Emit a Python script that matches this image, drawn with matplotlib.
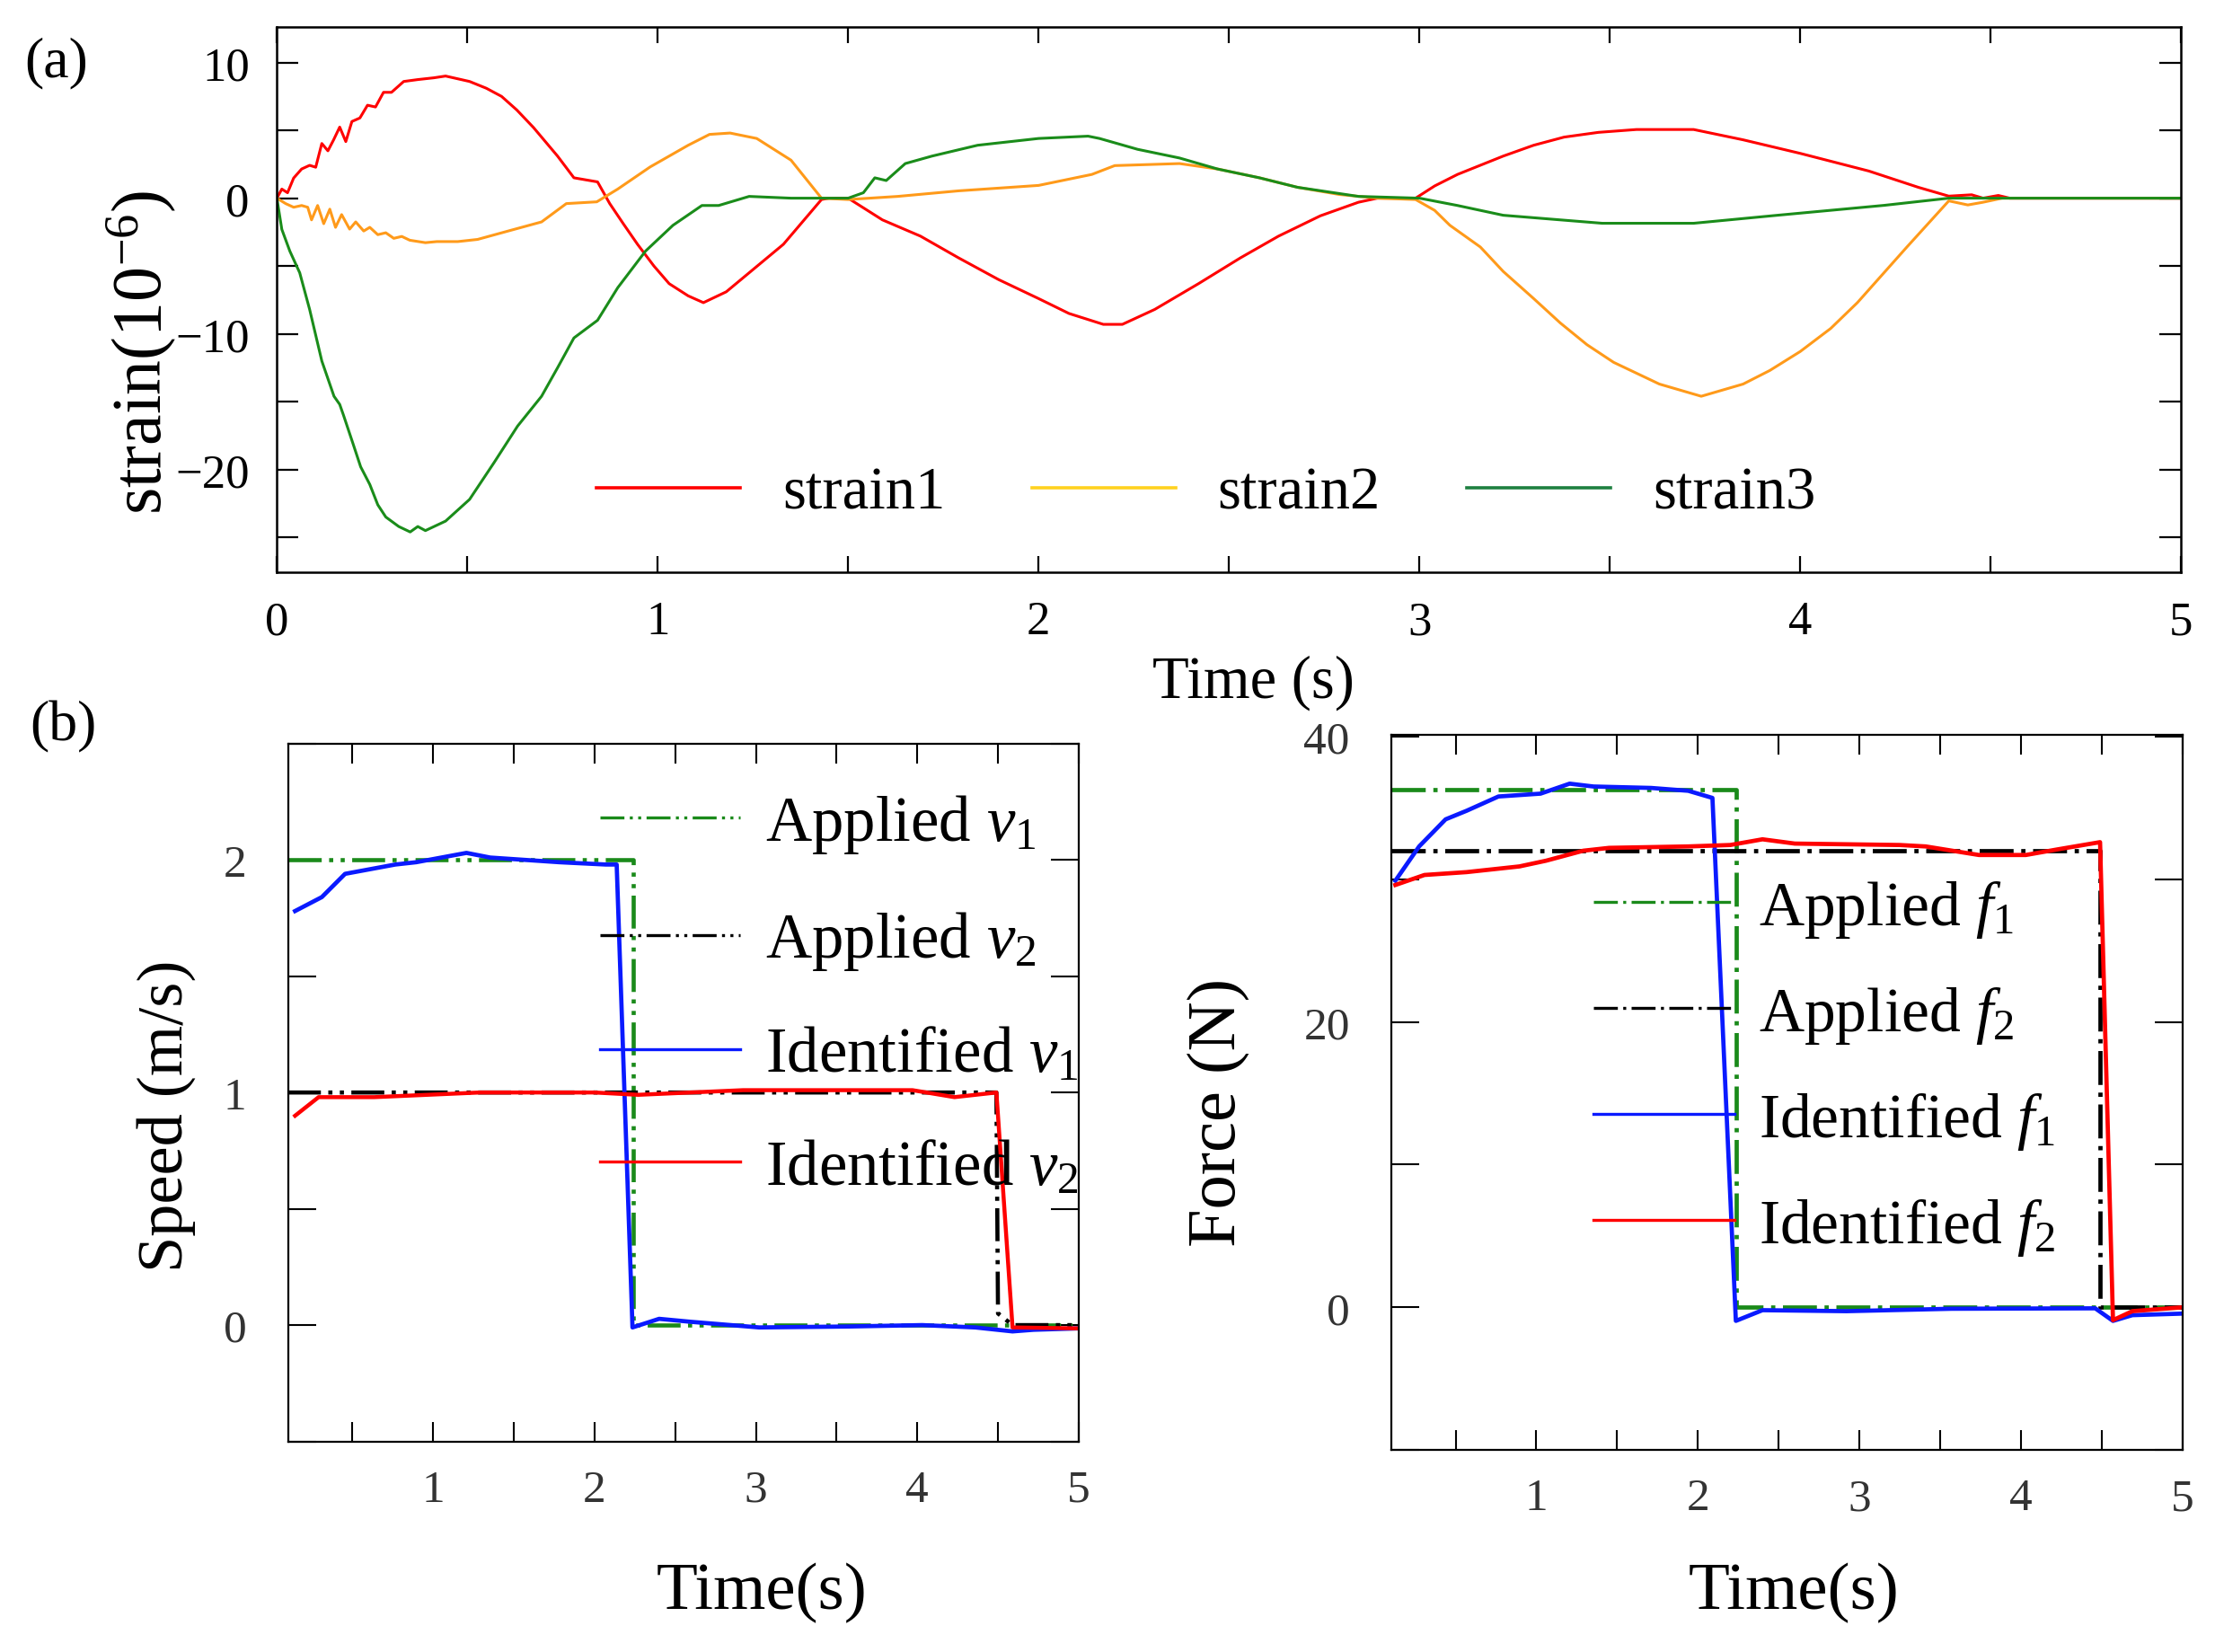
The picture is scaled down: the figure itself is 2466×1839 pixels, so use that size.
import matplotlib
matplotlib.use("Agg")
import matplotlib.pyplot as plt
from matplotlib.ticker import MultipleLocator
from matplotlib.lines import Line2D

plt.rcParams['font.family'] = ['Liberation Serif', 'DejaVu Serif']
plt.rcParams['mathtext.fontset'] = 'custom'
plt.rcParams['mathtext.rm'] = 'Liberation Serif'
plt.rcParams['mathtext.it'] = 'Liberation Serif:italic'
plt.rcParams['mathtext.bf'] = 'Liberation Serif:bold'
plt.rcParams['axes.unicode_minus'] = True

# ---------------- data: panel (a) ----------------
s1_t = [0, 0.013, 0.028, 0.044, 0.065, 0.086, 0.102, 0.118, 0.134, 0.149, 0.165, 0.181, 0.197,
        0.218, 0.238, 0.259, 0.28, 0.301, 0.333, 0.37, 0.412, 0.443, 0.506, 0.55, 0.59, 0.63,
        0.674, 0.737, 0.78, 0.842, 0.874, 0.91, 0.947, 0.99, 1.03, 1.08, 1.12, 1.18, 1.24,
        1.33, 1.43, 1.45, 1.50, 1.59, 1.69, 1.79, 1.895, 2.0, 2.08, 2.17, 2.22, 2.305, 2.42,
        2.53, 2.63, 2.74, 2.84, 2.89, 2.99, 3.04, 3.10, 3.22, 3.30, 3.38, 3.47, 3.57, 3.72,
        3.85, 4.0, 4.18, 4.31, 4.39, 4.45, 4.48, 4.52, 4.55, 5.0]
s1_v = [0, 0.67, 0.4, 1.48, 2.15, 2.42, 2.28, 4.03, 3.49, 4.3, 5.24, 4.17, 5.65,
        5.91, 6.85, 6.72, 7.8, 7.8, 8.6, 8.74, 8.87, 9.0, 8.6, 8.1, 7.5, 6.5,
        5.2, 3.1, 1.5, 1.2, -0.4, -1.9, -3.4, -5.0, -6.3, -7.2, -7.7, -6.9, -5.5,
        -3.4, -0.1, 0.0, 0.0, -1.6, -2.8, -4.4, -6.0, -7.4, -8.5, -9.3, -9.3, -8.2, -6.3,
        -4.4, -2.8, -1.3, -0.3, 0.0, 0.0, 0.9, 1.75, 3.1, 3.9, 4.5, 4.85, 5.06, 5.06,
        4.3, 3.3, 2.0, 0.8, 0.15, 0.25, 0.0, 0.2, 0.0, 0.0]

s2_t = [0, 0.023, 0.044, 0.065, 0.081, 0.091, 0.107, 0.123, 0.139, 0.154, 0.17, 0.191, 0.207,
        0.228, 0.244, 0.265, 0.286, 0.307, 0.328, 0.349, 0.39, 0.42, 0.475, 0.527, 0.61, 0.695,
        0.76, 0.84, 0.895, 0.98, 1.08, 1.136, 1.19, 1.26, 1.35, 1.43, 1.50, 1.63, 1.79, 2.0,
        2.14, 2.2, 2.37, 2.47, 2.58, 2.68, 2.79, 2.89, 2.99, 3.04, 3.08, 3.16, 3.22, 3.30,
        3.37, 3.44, 3.51, 3.63, 3.74, 3.85, 3.92, 4.0, 4.08, 4.15, 4.28, 4.39, 4.44, 4.48,
        4.53, 5.0]
s2_v = [0, -0.4, -0.67, -0.54, -0.67, -1.6, -0.54, -1.88, -0.81, -2.15, -1.21, -2.28, -1.75,
        -2.42, -2.15, -2.69, -2.55, -2.96, -2.82, -3.1, -3.28, -3.2, -3.2, -3.04, -2.4, -1.75,
        -0.4, -0.27, 0.67, 2.3, 3.9, 4.7, 4.8, 4.4, 2.8, 0.0, -0.1, 0.13, 0.54, 0.94,
        1.75, 2.4, 2.55, 2.15, 1.5, 0.8, 0.27, 0.0, -0.1, -0.9, -2.0, -3.6, -5.4, -7.4,
        -9.2, -10.8, -12.1, -13.7, -14.6, -13.7, -12.7, -11.3, -9.6, -7.7, -3.6, -0.2, -0.5, -0.3,
        0.0, 0.0]

s3_t = [0, 0.013, 0.034, 0.06, 0.086, 0.118, 0.15, 0.165, 0.175, 0.20, 0.22, 0.244, 0.265,
        0.286, 0.32, 0.35, 0.37, 0.39, 0.443, 0.506, 0.57, 0.632, 0.695, 0.737, 0.78, 0.842,
        0.895, 0.968, 1.04, 1.116, 1.16, 1.24, 1.35, 1.50, 1.54, 1.57, 1.60, 1.65, 1.72, 1.84,
        2.0, 2.13, 2.16, 2.26, 2.37, 2.47, 2.58, 2.68, 2.84, 3.0, 3.1, 3.22, 3.48, 3.72,
        3.94, 4.22, 4.39, 5.0]
s3_v = [0, -2.3, -3.9, -5.5, -8.2, -12.0, -14.6, -15.2, -16.0, -18.1, -19.8, -21.1, -22.6,
        -23.5, -24.2, -24.6, -24.2, -24.5, -23.8, -22.2, -19.5, -16.8, -14.6, -12.5, -10.3, -9.0,
        -6.6, -3.9, -2.0, -0.54, -0.54, 0.13, 0.0, 0.0, 0.4, 1.5, 1.3, 2.55, 3.1, 3.9,
        4.4, 4.57, 4.4, 3.6, 2.96, 2.15, 1.5, 0.8, 0.13, 0.0, -0.54, -1.26, -1.85, -1.85,
        -1.26, -0.53, 0.0, 0.0]

strain_labels = ['strain1', 'strain2', 'strain3']

# ---------------- data: panel (b) speed ----------------
av1_t = [0.1, 2.24, 2.24, 5.0]
av1_v = [2.0, 2.0, 0.0, 0.0]
av2_t = [0.1, 4.49, 4.50, 4.59, 5.0]
av2_v = [1.0, 1.0, 0.05, 0.0, 0.0]
iv1_t = [0.144, 0.31, 0.454, 0.765, 0.895, 1.206, 1.353, 1.78, 2.07, 2.137, 2.235, 2.4,
         2.6, 3.02, 3.57, 4.03, 4.36, 4.59, 4.72, 5.0]
iv1_v = [1.78, 1.84, 1.94, 1.98, 1.99, 2.03, 2.01, 1.99, 1.98, 1.98, -0.01, 0.027,
         0.014, -0.01, -0.006, 0.0, -0.01, -0.027, -0.02, -0.014]
iv2_t = [0.144, 0.29, 0.634, 1.29, 2.0, 2.27, 2.92, 3.57, 3.97, 4.23, 4.49, 4.59, 5.0]
iv2_v = [0.9, 0.98, 0.98, 1.0, 1.0, 0.99, 1.01, 1.01, 1.01, 0.98, 1.0, -0.01, -0.014]

# ---------------- data: panel (b) force ----------------
af1_t = [0.1, 2.24, 2.24, 5.0]
af1_v = [36.3, 36.3, 0.0, 0.0]
af2_t = [0.1, 4.49, 4.49, 5.0]
af2_v = [32.0, 32.0, 0.0, 0.0]
if1_t = [0.127, 0.274, 0.438, 0.568, 0.765, 1.026, 1.206, 1.353, 1.71, 1.94, 2.09, 2.235,
         2.4, 2.92, 3.57, 4.46, 4.57, 4.69, 5.0]
if1_v = [29.9, 32.3, 34.2, 34.8, 35.8, 36.0, 36.7, 36.5, 36.4, 36.2, 35.7, -0.95,
         -0.2, -0.27, -0.1, -0.07, -0.95, -0.55, -0.44]
if2_t = [0.127, 0.307, 0.568, 0.895, 1.06, 1.29, 1.45, 1.94, 2.2, 2.4, 2.6, 3.25, 3.41,
         3.74, 4.03, 4.23, 4.49, 4.57, 4.69, 5.0]
if2_v = [29.6, 30.3, 30.5, 30.9, 31.3, 32.0, 32.2, 32.3, 32.4, 32.8, 32.5, 32.4, 32.3,
         31.7, 31.7, 32.1, 32.6, -0.9, -0.27, 0.0]

speed_labels = ['Applied $v_1$', 'Applied $v_2$', 'Identified $v_1$', 'Identified $v_2$']
force_labels = ['Applied $f_1$', 'Applied $f_2$', 'Identified $f_1$', 'Identified $f_2$']

# ---------------- figure ----------------
fig = plt.figure(figsize=(24.66, 18.40), dpi=100)

ax1 = fig.add_axes([0.125, 0.653, 0.8597, 0.330])
ax2 = fig.add_axes([0.130, 0.1274, 0.357, 0.4222])
ax3 = fig.add_axes([0.628, 0.1222, 0.3573, 0.4325])

RED = '#ff0000'
ORANGE = '#ff9a1a'
GREEN = '#1a8c1a'
BLUE = '#0a1aff'
AGREEN = '#1a8a1a'

ax1.plot(s1_t, s1_v, color=RED, lw=2.2)
ax1.plot(s2_t, s2_v, color=ORANGE, lw=2.2)
ax1.plot(s3_t, s3_v, color=GREEN, lw=2.2)
ax1.set_xlim(0, 5)
ax1.set_ylim(-27.6, 12.6)
ax1.xaxis.set_major_locator(MultipleLocator(1))
ax1.xaxis.set_minor_locator(MultipleLocator(0.5))
ax1.yaxis.set_major_locator(MultipleLocator(10))
ax1.yaxis.set_minor_locator(MultipleLocator(5))
ax1.tick_params(axis='both', which='both', direction='in', top=True, right=True,
                width=1.6, labelsize=38)
ax1.tick_params(axis='x', which='both', length=13, pad=22)
ax1.tick_params(axis='y', which='both', length=17, pad=22)
for s in ax1.spines.values():
    s.set_linewidth(1.8)

h1 = [Line2D([], [], color=RED, lw=2.6),
      Line2D([], [], color='#ffd21f', lw=2.6),
      Line2D([], [], color='#1e8040', lw=2.6)]
ax1.legend(h1, strain_labels, loc='center', bbox_to_anchor=(0.488, 0.145), ncol=3,
           frameon=False, fontsize=48, handlelength=2.4, handletextpad=0.7,
           columnspacing=1.45)

fig.text(0.0255, 0.9615, '(a)', fontsize=46, ha='center', va='center')
fig.text(0.0287, 0.560, '(b)', fontsize=46, ha='center', va='center')
fig.text(0.566, 0.587, 'Time (s)', fontsize=48, ha='center', va='center')
fig.text(0.064, 0.787, 'strain(10$^{-6}$)', fontsize=56, ha='center', va='center',
         rotation=90)

# speed
dd = (0, (8, 1.8, 1.0, 1.8, 1.0, 1.8))
dd2 = (0, (8, 1.8, 1.0, 1.8))
ax2.plot(av1_t, av1_v, color=AGREEN, lw=3.3, linestyle=dd, label=speed_labels[0])
ax2.plot(av2_t, av2_v, color='black', lw=3.3, linestyle=dd, label=speed_labels[1])
ax2.plot(iv1_t, iv1_v, color=BLUE, lw=3.4, label=speed_labels[2])
ax2.plot(iv2_t, iv2_v, color=RED, lw=3.2, label=speed_labels[3])
ax2.set_xlim(0.1, 5)
ax2.set_ylim(-0.5, 2.5)
ax2.xaxis.set_major_locator(MultipleLocator(1))
ax2.xaxis.set_minor_locator(MultipleLocator(0.5))
ax2.yaxis.set_major_locator(MultipleLocator(1))
ax2.yaxis.set_minor_locator(MultipleLocator(0.5))

# force
ax3.plot(af1_t, af1_v, color=AGREEN, lw=3.4, linestyle=dd2, label=force_labels[0])
ax3.plot(af2_t, af2_v, color='black', lw=3.4, linestyle=dd2, label=force_labels[1])
ax3.plot(if1_t, if1_v, color=BLUE, lw=3.4, label=force_labels[2])
ax3.plot(if2_t, if2_v, color=RED, lw=3.4, label=force_labels[3])
ax3.set_xlim(0.1, 5)
ax3.set_ylim(-10, 40.1)
ax3.xaxis.set_major_locator(MultipleLocator(1))
ax3.xaxis.set_minor_locator(MultipleLocator(0.5))
ax3.yaxis.set_major_locator(MultipleLocator(20))
ax3.yaxis.set_minor_locator(MultipleLocator(10))

for ax in (ax2, ax3):
    ax.tick_params(axis='both', which='both', direction='in', top=True, right=True,
                   width=1.5, labelsize=37, labelcolor='#333333')
    ax.tick_params(axis='x', which='both', length=16, pad=22)
    ax.tick_params(axis='y', which='both', length=22, pad=33)
    for s in ax.spines.values():
        s.set_linewidth(1.6)

leg2 = ax2.legend(loc='upper right', bbox_to_anchor=(1.0, 0.93), frameon=False,
                  fontsize=51, handlelength=2.2, handletextpad=0.4, labelspacing=0.85,
                  borderpad=0.0, borderaxespad=0.0)
leg3 = ax3.legend(loc='upper right', bbox_to_anchor=(0.84, 0.80), frameon=False,
                  fontsize=50, handlelength=2.25, handletextpad=0.4, labelspacing=0.72,
                  borderpad=0.0, borderaxespad=0.0)
for lg in (leg2, leg3):
    for ln in lg.get_lines():
        ln.set_linewidth(2.4)

fig.text(0.075, 0.325, 'Speed (m/s)', fontsize=52, ha='center', va='center', rotation=90)
fig.text(0.344, 0.036, 'Time(s)', fontsize=54, ha='center', va='center')
fig.text(0.550, 0.327, 'Force (N)', fontsize=55, ha='center', va='center', rotation=90)
fig.text(0.810, 0.036, 'Time(s)', fontsize=54, ha='center', va='center')

fig.savefig('out.png', dpi=100)
